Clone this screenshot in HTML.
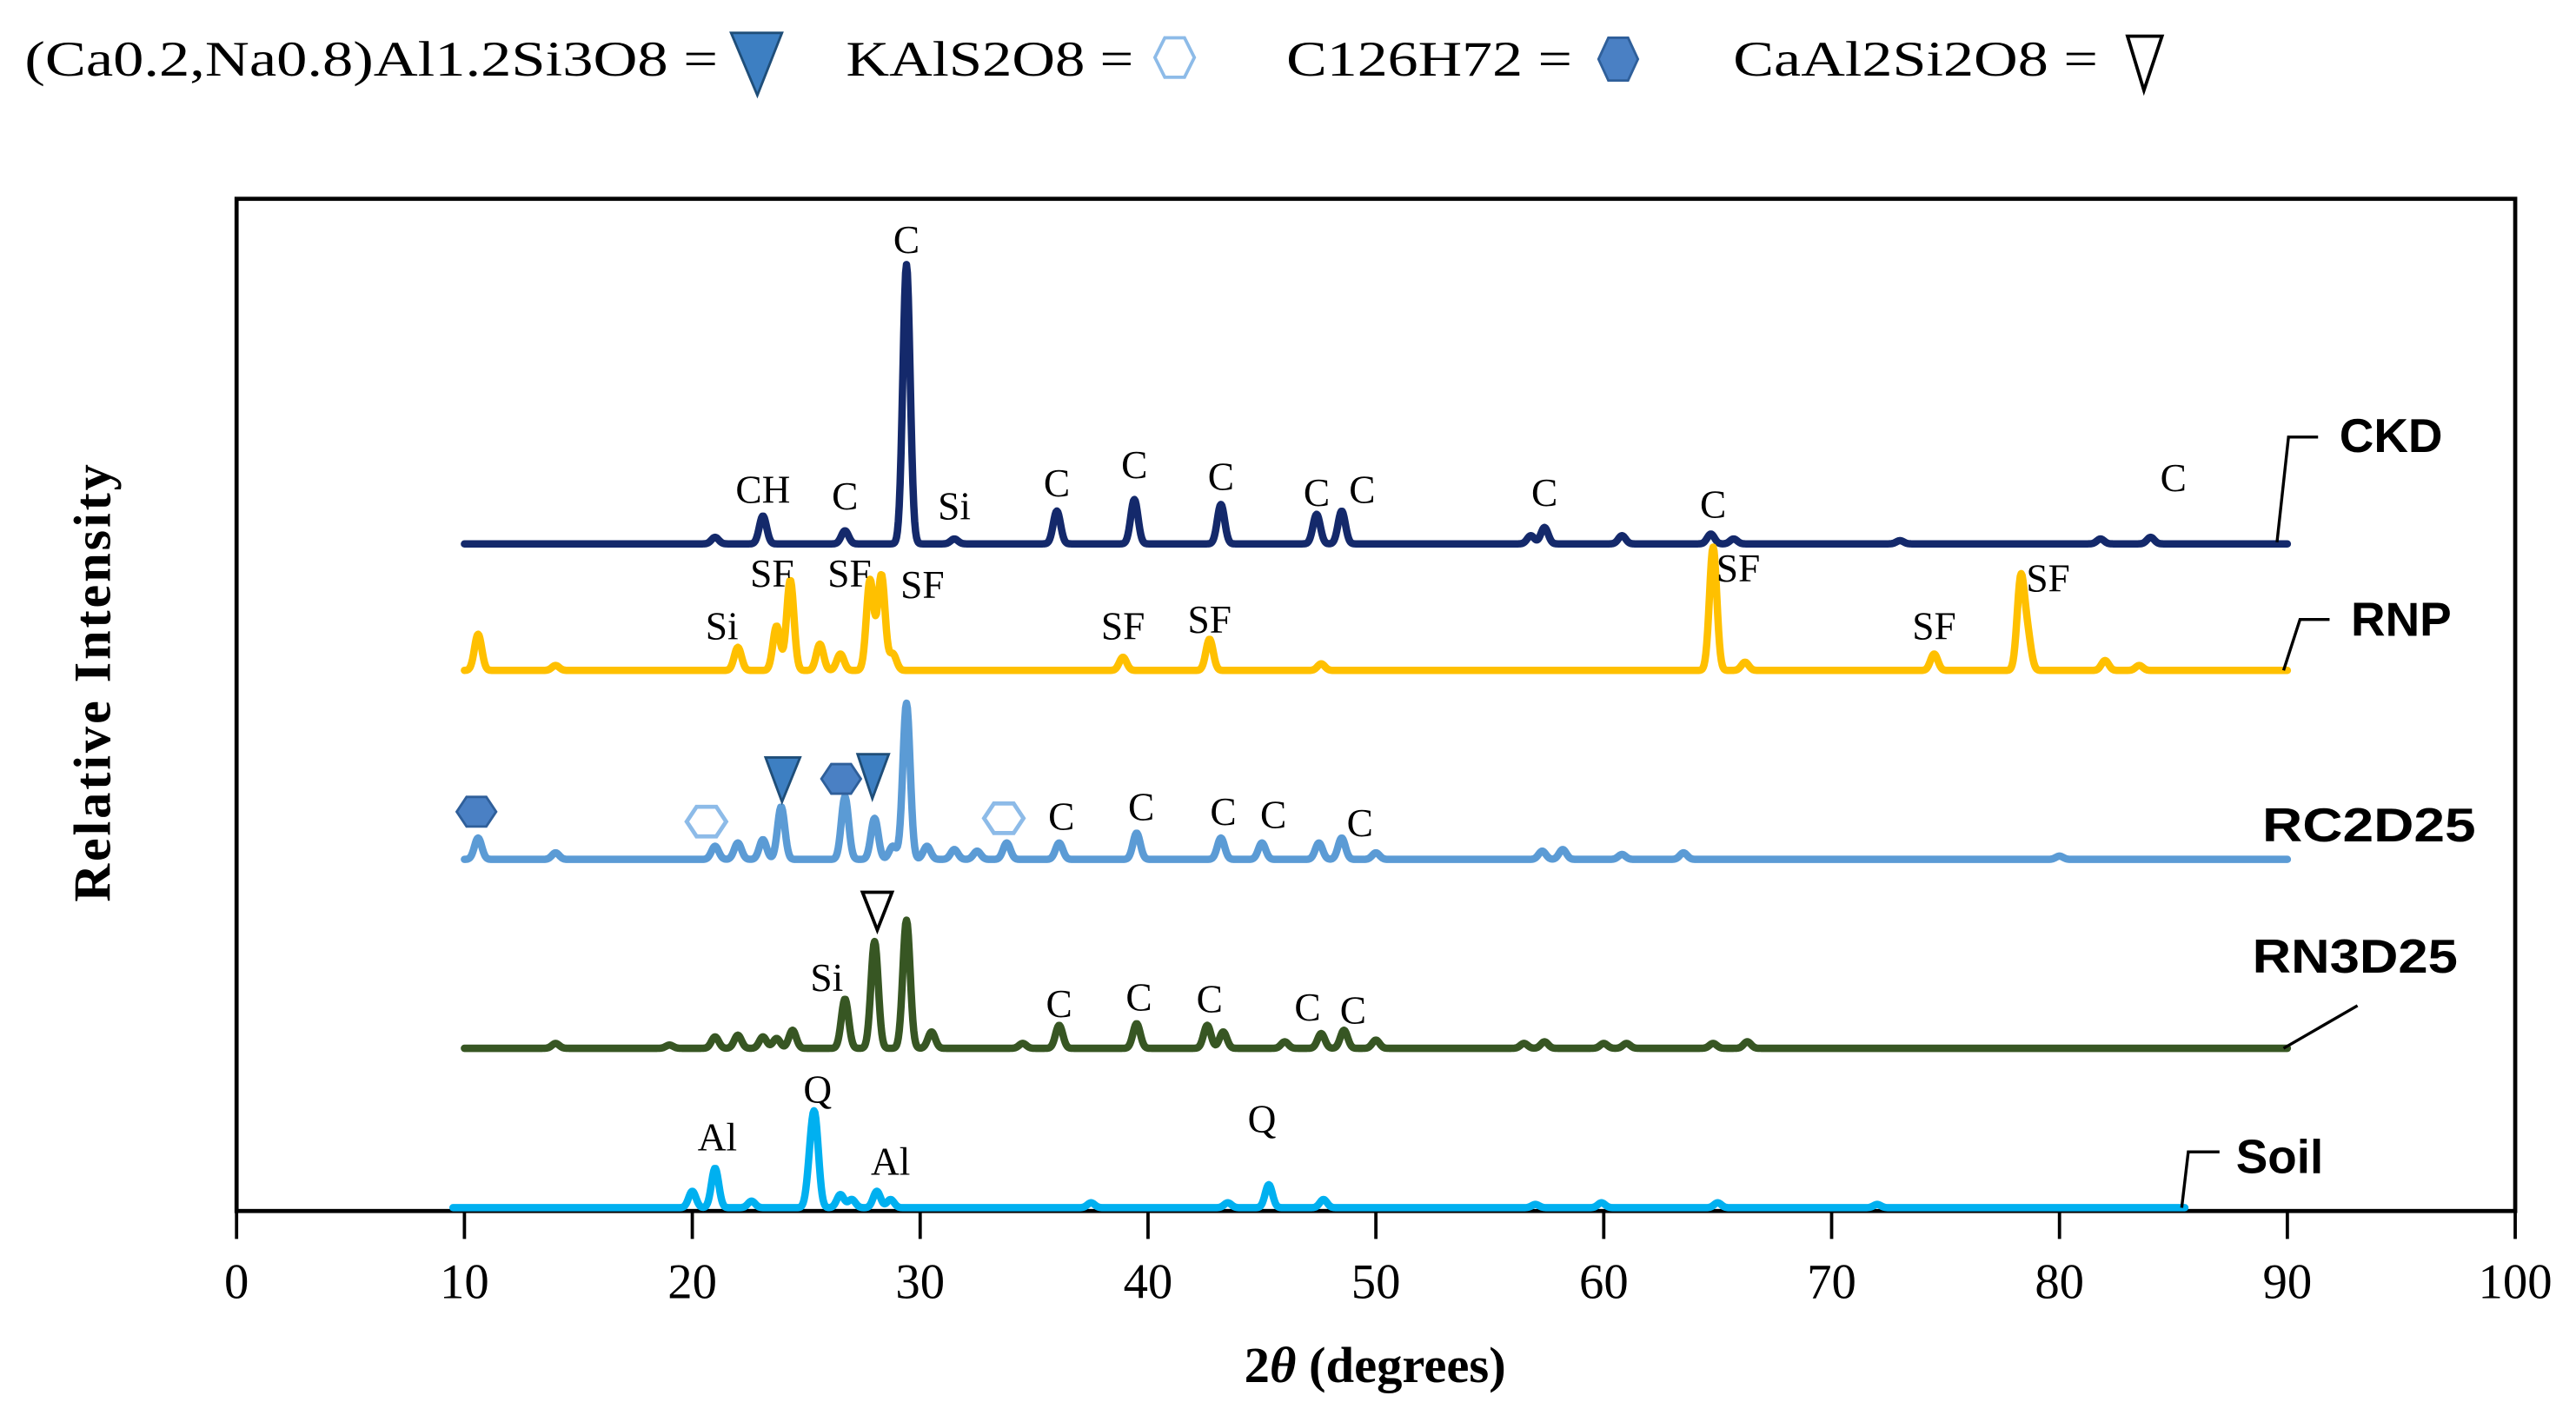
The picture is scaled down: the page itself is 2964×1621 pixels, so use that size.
<!DOCTYPE html>
<html><head><meta charset="utf-8"><style>
html,body{margin:0;padding:0;background:#fff;}
svg{display:block;}
.serif{font-family:"Liberation Serif",serif;}
.sans{font-family:"Liberation Sans",sans-serif;font-weight:bold;}
</style></head><body>
<svg id="chart" width="2964" height="1621" viewBox="0 0 1568 857.5" preserveAspectRatio="none" xmlns="http://www.w3.org/2000/svg">
<g class="serif" font-size="30">
 <text x="15" y="46" textLength="422" lengthAdjust="spacingAndGlyphs">(Ca0.2,Na0.8)Al1.2Si3O8 =</text>
 <polygon points="445,20 476,20 461,58" fill="#3d7fc2" stroke="#1f4e79" stroke-width="1.5"/>
 <text x="515" y="46" textLength="175" lengthAdjust="spacingAndGlyphs">KAlS2O8 =</text>
 <polygon points="709,23 721,23 727,35 721,47 709,47 703,35" fill="none" stroke="#8dbbe8" stroke-width="2"/>
 <text x="783" y="46" textLength="174" lengthAdjust="spacingAndGlyphs">C126H72 =</text>
 <polygon points="979,23 991,23 997,36 991,49 979,49 973,36" fill="#4a80c4" stroke="#2f5f9a" stroke-width="1.5"/>
 <text x="1055" y="46" textLength="222" lengthAdjust="spacingAndGlyphs">CaAl2Si2O8 =</text>
 <polygon points="1295,22 1316,22 1305,55" fill="none" stroke="#000" stroke-width="2"/>
</g>
<rect x="144" y="121" width="1387" height="616" fill="none" stroke="#000" stroke-width="2.5"/>
<g id="axis"></g>
<g id="series"></g>
<g id="labels" class="serif" font-size="24"></g>
<text class="serif" x="837" y="841" font-size="31" font-weight="bold" text-anchor="middle">2<tspan font-style="italic">θ</tspan> (degrees)</text>
<text class="serif" x="0" y="0" font-size="32" font-weight="bold" text-anchor="middle" transform="translate(67,415) rotate(-90)" letter-spacing="1.5">Relative Intensity</text>
<g class="sans" font-size="29">
 <text x="1424" y="275">CKD</text>
 <text x="1431" y="387">RNP</text>
 <text x="1377" y="512" textLength="130" lengthAdjust="spacingAndGlyphs">RC2D25</text>
 <text x="1371" y="592" textLength="125" lengthAdjust="spacingAndGlyphs">RN3D25</text>
 <text x="1361" y="714">Soil</text>
</g>
<g fill="none" stroke="#000" stroke-width="1.8">
 <polyline points="1386,330 1393,266 1411,266"/>
 <polyline points="1390,408 1400,377 1418,377"/>
 <polyline points="1390,638 1435,612"/>
 <polyline points="1328,735 1332,701 1351,701"/>
</g>
<g>
 <polygon points="284,485 296,485 302,494 296,503 284,503 278,494" fill="#4a80c4" stroke="#2f5f9a" stroke-width="1.5"/>
 <polygon points="424,491 436,491 442,500 436,509 424,509 418,500" fill="none" stroke="#8dbbe8" stroke-width="2.5"/>
 <polygon points="466,461 487,461 476,488" fill="#3d7fc2" stroke="#1f4e79" stroke-width="1.5"/>
 <polygon points="506,465 518,465 524,474 518,483 506,483 500,474" fill="#4a80c4" stroke="#2f5f9a" stroke-width="1.5"/>
 <polygon points="522,459 541,459 531,486" fill="#3d7fc2" stroke="#1f4e79" stroke-width="1.5"/>
 <polygon points="605,489 617,489 623,498 617,507 605,507 599,498" fill="none" stroke="#8dbbe8" stroke-width="2.5"/>
 <polygon points="525,543 543,543 534,566" fill="none" stroke="#000" stroke-width="2"/>
</g>
</svg>
<script>
const xTicks=[0,10,20,30,40,50,60,70,80,90,100];
const ckdPeaks=[[21,4],[23.1,17],[26.7,8],[29.4,170],[31.5,3],[36,20],[39.4,27],[43.2,24],[47.4,18],[48.5,20],[56.8,5],[57.4,10],[60.8,5],[64.7,6],[65.7,3],[73,2],[81.8,3],[84,4]];
const rnpPeaks=[[10.6,22],[14,3],[22,14],[23.7,27],[24.3,55],[25.6,16],[26.5,10],[27.8,55],[28.3,58],[28.8,10],[38.9,8],[42.7,19],[47.6,4],[64.8,75],[66.2,5],[74.5,10],[78.3,55],[78.6,20],[82,6],[83.5,3]];
const rc2Peaks=[[10.6,13],[14,4],[21,8],[22,10],[23.1,12],[23.9,32],[26.7,38],[28,25],[28.8,8],[29.4,95],[30.3,8],[31.5,6],[32.5,5],[33.8,10],[36.1,10],[39.5,16],[43.2,13],[45,10],[47.5,10],[48.5,13],[50,4],[57.3,5],[58.2,6],[60.8,3],[63.5,4],[80,2]];
const rn3Peaks=[[14,3],[19,2],[21,7],[22,8],[23.1,7],[23.7,6],[24.4,11],[26.7,30],[28,65],[29.4,78],[30.5,10],[34.5,3],[36.1,14],[39.5,15],[42.6,14],[43.3,10],[46,4],[47.6,9],[48.6,11],[50,5],[56.5,3],[57.4,4],[60,3],[61,3],[64.8,3],[66.3,4]];
const soilPeaks=[[20,10],[21,24],[22.6,4],[25.2,25],[25.4,45],[26.5,8],[27,5],[28.1,10],[28.7,5],[37.5,3],[43.5,3],[45.3,14],[47.7,5],[57,2],[59.9,3],[65,3],[72,2]];
const seriesNames=["ckd","rnp","rc2d25","rn3d25","soil"];
const seriesPeaks=[ckdPeaks,rnpPeaks,rc2Peaks,rn3Peaks,soilPeaks];
const seriesOffsets=[331,408,523,638,735];
const seriesRanges=[[10,90],[10,90],[10,90],[10,90],[9.5,85.5]];
const seriesColors=["#14296b","#ffc000","#5b9bd5","#375623","#00b0f0"];
const peakLabels=[["CH",23.1,298],["C",26.7,302],["C",29.4,146],["Si",31.5,308],["C",36,294],["C",39.4,283],["C",43.2,290],["C",47.4,300],["C",49.4,298],["C",57.4,300],["C",64.8,307],["C",85,291],
["Si",21.3,381],["SF",23.5,349],["SF",26.9,349],["SF",30.1,356],["SF",38.9,381],["SF",42.7,377],["SF",65.9,346],["SF",74.5,381],["SF",79.5,352],
["C",36.2,497],["C",39.7,491],["C",43.3,494],["C",45.5,496],["C",49.3,501],
["Si",25.9,595],["C",36.1,611],["C",39.6,607],["C",42.7,608],["C",47,613],["C",49,615],
["Al",21.1,692],["Q",25.5,663],["Al",28.7,707],["Q",45,681]];
const NS="http://www.w3.org/2000/svg";
const X0=144,X1=1531,Y1=737;
function xs(v){return X0+(v-0)/(100-0)*(X1-X0);}
function ys(off,v){return off-v;}
const axis=document.getElementById('axis');
xTicks.forEach(t=>{
 const l=document.createElementNS(NS,'line');
 
 
 l.setAttribute('x1',xs(t));l.setAttribute('x2',xs(t));l.setAttribute('y1',Y1);l.setAttribute('y2',Y1+17);
 l.setAttribute('stroke','#000');l.setAttribute('stroke-width','2');axis.appendChild(l);
 const tx=document.createElementNS(NS,'text');
 
 
 tx.setAttribute('x',xs(t));tx.setAttribute('y',790);tx.setAttribute('text-anchor','middle');
 tx.setAttribute('font-size','30');tx.setAttribute('font-family','Liberation Serif, serif');
 tx.textContent=t;axis.appendChild(tx);
});
const sg=document.getElementById('series');
seriesPeaks.forEach((peaks,i)=>{
 const [a,b]=seriesRanges[i];let d='';
 for(let x=a;x<=b+1e-9;x+=0.04){
  let v=0;peaks.forEach(p=>{const w=0.16;v+=p[1]*Math.exp(-((x-p[0])**2)/(2*w*w));});
  d+=(d?'L':'M')+xs(x).toFixed(2)+','+ys(seriesOffsets[i],v).toFixed(2);
 }
 const p=document.createElementNS(NS,'path');
 
 
 p.setAttribute('d',d);p.setAttribute('fill','none');p.setAttribute('stroke',seriesColors[i]);
 p.setAttribute('stroke-width','4.5');p.setAttribute('stroke-linejoin','round');p.setAttribute('stroke-linecap','round');
 sg.appendChild(p);
});
const lg=document.getElementById('labels');
peakLabels.forEach(l=>{
 const t=document.createElementNS(NS,'text');
 
 
 t.setAttribute('x',xs(l[1]));t.setAttribute('y',l[2]+8);t.setAttribute('text-anchor','middle');
 t.textContent=l[0];lg.appendChild(t);
});
</script>
</body></html>
